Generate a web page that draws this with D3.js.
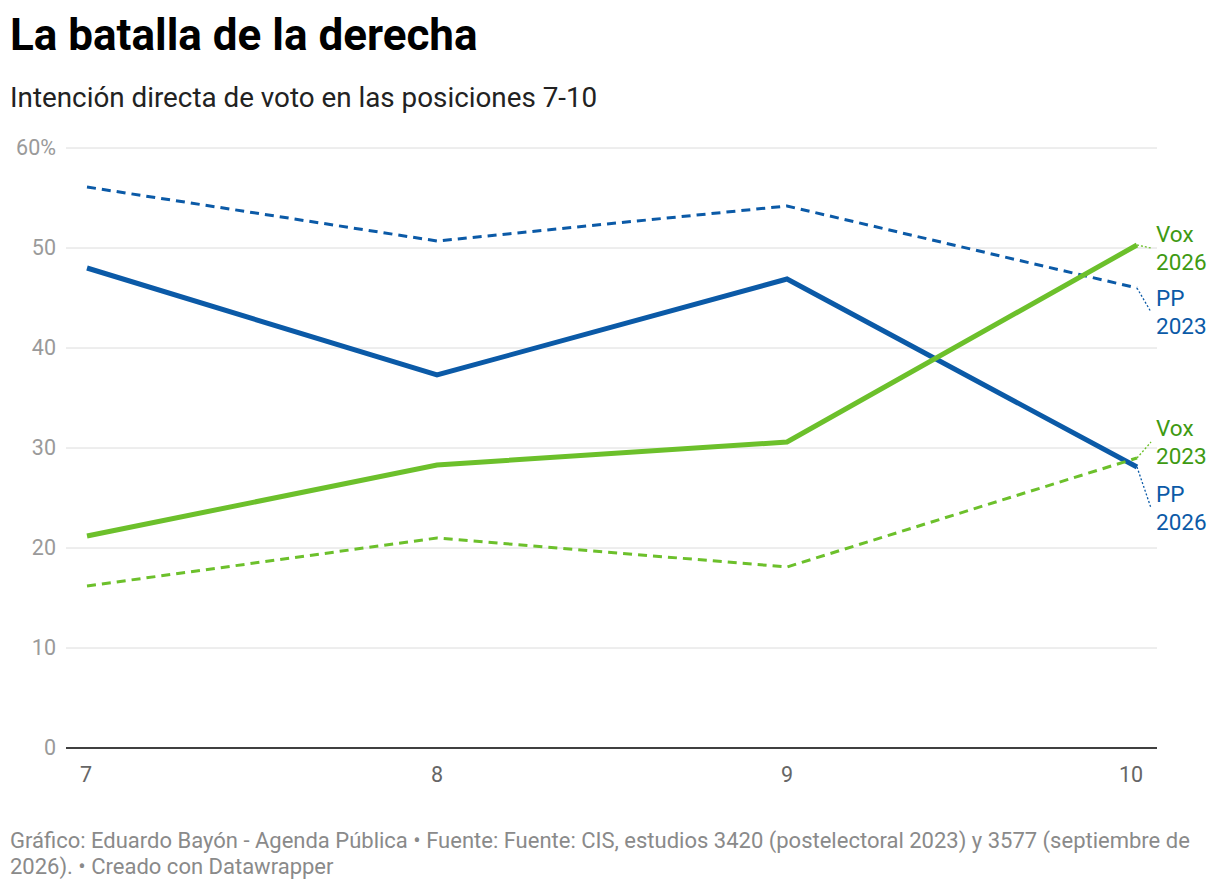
<!DOCTYPE html><html><head><meta charset="utf-8">
<script src="https://cdn.jsdelivr.net/npm/d3@7"></script>
<style>body{margin:0;background:#fff;font-family:Roboto,sans-serif}</style></head><body>
<svg id="c" width="1220" height="890"></svg>
<script>
const categories=[7,8,9,10];
const pp2023=[56.1,50.7,54.2,46.0];
const pp2026=[48.0,37.3,46.9,28.1];
const vox2026=[21.2,28.3,30.6,50.3];
const vox2023=[16.2,21.0,18.1,29.0];
const yTicks=[0,10,20,30,40,50,60];
const series=[
 {name:["PP","2023"],v:pp2023,c:"#0b5aa7",lc:"#0b5aa7",dash:true,ly:298},
 {name:["PP","2026"],v:pp2026,c:"#0b5aa7",lc:"#0b5aa7",dash:false,ly:494},
 {name:["Vox","2026"],v:vox2026,c:"#6cc02b",lc:"#3e9a12",dash:false,ly:234},
 {name:["Vox","2023"],v:vox2023,c:"#6cc02b",lc:"#3e9a12",dash:true,ly:428}];
const svg=d3.select("#c");
const x=d3.scaleLinear().domain([7,10]).range([87,1137]);
const y=d3.scaleLinear().domain([0,60]).range([748,148]);
svg.append("text").attr("x",10).attr("y",50).attr("font-size",44).attr("font-weight",700).text("La batalla de la derecha");
svg.append("text").attr("x",10).attr("y",107).attr("font-size",27.8).attr("fill","#222").text("Intención directa de voto en las posiciones 7-10");
yTicks.forEach(t=>{
 svg.append("line").attr("x1",66).attr("x2",1157).attr("y1",y(t)).attr("y2",y(t)).attr("stroke",t==0?"#000":"#dcdcdc").attr("stroke-width",t==0?1.5:1);
 svg.append("text").attr("x",56).attr("y",y(t)+7).attr("text-anchor","end").attr("font-size",21.5).attr("fill","#9a9a9a").text(t==60?"60%":t);
});
categories.forEach((c,i)=>{
 svg.append("text").attr("x",x(c)+(i==0?-7:i==3?-6:0)).attr("y",782).attr("text-anchor",i==0?"start":"middle").attr("font-size",21.5).attr("fill","#666").text(c);
});
const line=d3.line().x((d,i)=>x(categories[i])).y(d=>y(d));
series.forEach(s=>{
 svg.append("path").attr("d",line(s.v)).attr("fill","none").attr("stroke",s.c).attr("stroke-width",s.dash?3:5).attr("stroke-dasharray",s.dash?"9,6":null);
 const ex=x(10),ey=y(s.v[3]);
 const ty=s.ly+14;
 svg.append("line").attr("x1",ex).attr("y1",ey).attr("x2",1151).attr("y2",ty).attr("stroke",s.c).attr("stroke-width",1.3).attr("stroke-dasharray","2,2");
 s.name.forEach((n,k)=>svg.append("text").attr("x",1156).attr("y",s.ly+8+k*28).attr("font-size",22.5).attr("fill",s.lc).text(n));
});
const f=svg.append("text").attr("font-size",22).attr("fill","#8a8a8a");
f.append("tspan").attr("x",10).attr("y",848).text("Gráfico: Eduardo Bayón - Agenda Pública • Fuente: Fuente: CIS, estudios 3420 (postelectoral 2023) y 3577 (septiembre de");
f.append("tspan").attr("x",10).attr("y",874).text("2026). • Creado con Datawrapper");
</script></body></html>
